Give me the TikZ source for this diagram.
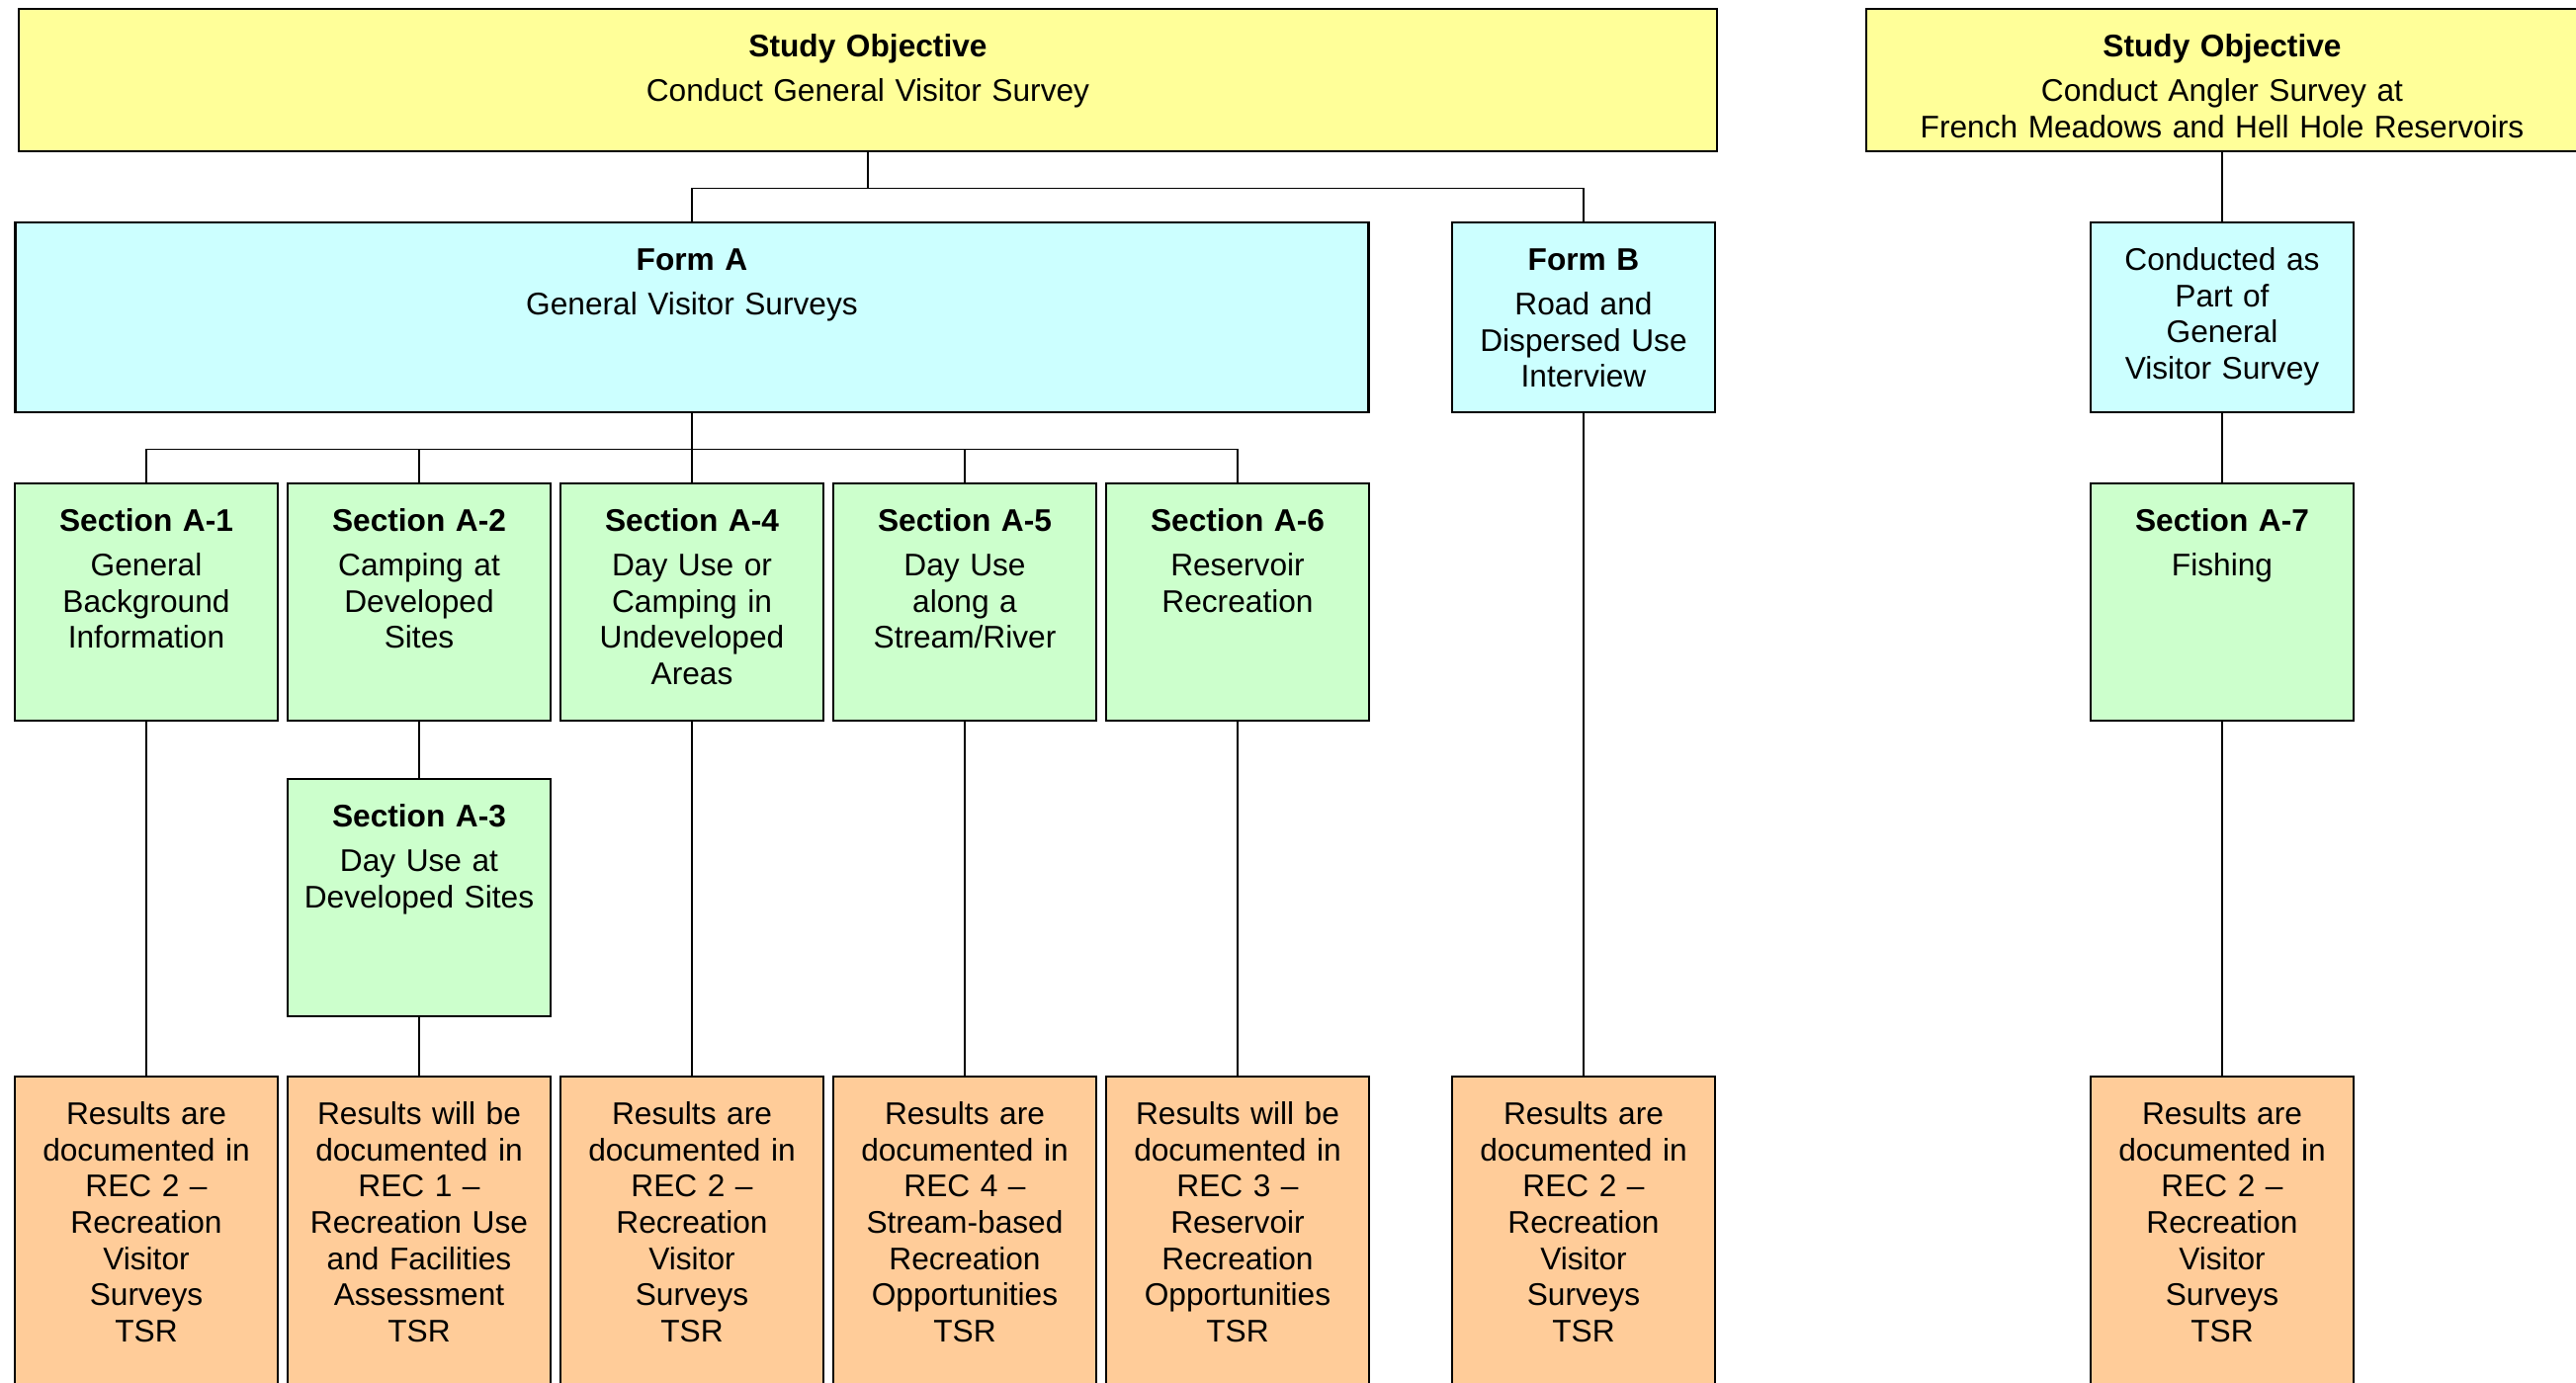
\documentclass[tikz,border=0pt]{standalone}
\usepackage{fontspec}
\setmainfont{Liberation Sans}
\usetikzlibrary{positioning,calc}

\definecolor{objyellow}{RGB}{255,255,153}
\definecolor{formcyan}{RGB}{204,255,255}
\definecolor{secgreen}{RGB}{204,255,204}
\definecolor{respeach}{RGB}{255,204,153}

\begin{document}
\begin{tikzpicture}[x=0.3pt,y=-0.3pt,
    box/.style={draw,line width=0.7pt,anchor=north,inner sep=0pt,align=center,
      text height=14.5pt,font=\fontsize{9.5}{11}\selectfont},
    objbox/.style={box,fill=objyellow,text depth=28.7pt},
    formbox/.style={box,fill=formcyan,text width=79.8pt,text depth=43.1pt},
    secbox/.style={box,fill=secgreen,text width=79.8pt,text depth=57.5pt},
    resbox/.style={box,fill=respeach,text width=79.8pt,text depth=87.5pt},
    link/.style={line width=0.5pt}]
  \path[use as bounding box,clip] (0,0) rectangle (2606,1398);

  % objectives
  \node[objbox,text width=515.25pt] (obj1) at (878,8)
    {\textbf{Study Objective}\\[2.5pt] Conduct General Visitor Survey};
  \node[objbox,text width=216pt] (obj2) at (2248,8)
    {\textbf{Study Objective}\\[2.5pt] Conduct Angler Survey at\\ French Meadows and Hell Hole Reservoirs};

  % forms
  \node[formbox,text width=410.7pt] (formA) at (700,224)
    {\textbf{Form A}\\[2.5pt] General Visitor Surveys};
  \node[formbox] (formB) at (1602,224)
    {\textbf{Form B}\\[2.5pt] Road and\\ Dispersed Use\\ Interview};
  \node[formbox] (part) at (2248,224)
    {Conducted as\\ Part of\\ General\\ Visitor Survey};

  % sections
  \node[secbox] (a1) at (148,488) {\textbf{Section A-1}\\[2.5pt] General\\ Background\\ Information};
  \node[secbox] (a2) at (424,488) {\textbf{Section A-2}\\[2.5pt] Camping at\\ Developed\\ Sites};
  \node[secbox] (a4) at (700,488) {\textbf{Section A-4}\\[2.5pt] Day Use or\\ Camping in\\ Undeveloped\\ Areas};
  \node[secbox] (a5) at (976,488) {\textbf{Section A-5}\\[2.5pt] Day Use\\ along a\\ Stream/River};
  \node[secbox] (a6) at (1252,488) {\textbf{Section A-6}\\[2.5pt] Reservoir\\ Recreation};
  \node[secbox] (a7) at (2248,488) {\textbf{Section A-7}\\[2.5pt] Fishing};
  \node[secbox] (a3) at (424,787) {\textbf{Section A-3}\\[2.5pt] Day Use at\\ Developed Sites};

  % results
  \node[resbox] (r1) at (148,1088) {Results are\\ documented in\\ REC 2 --\\ Recreation\\ Visitor\\ Surveys\\ TSR};
  \node[resbox] (r2) at (424,1088) {Results will be\\ documented in\\ REC 1 --\\ Recreation Use\\ and Facilities\\ Assessment\\ TSR};
  \node[resbox] (r4) at (700,1088) {Results are\\ documented in\\ REC 2 --\\ Recreation\\ Visitor\\ Surveys\\ TSR};
  \node[resbox] (r5) at (976,1088) {Results are\\ documented in\\ REC 4 --\\ Stream-based\\ Recreation\\ Opportunities\\ TSR};
  \node[resbox] (r6) at (1252,1088) {Results will be\\ documented in\\ REC 3 --\\ Reservoir\\ Recreation\\ Opportunities\\ TSR};
  \node[resbox] (rB) at (1602,1088) {Results are\\ documented in\\ REC 2 --\\ Recreation\\ Visitor\\ Surveys\\ TSR};
  \node[resbox] (r7) at (2248,1088) {Results are\\ documented in\\ REC 2 --\\ Recreation\\ Visitor\\ Surveys\\ TSR};

  % connectors
  \draw[link] (obj1.south) -- ++(0,36) coordinate (bus1) -| (formA.north);
  \draw[link] (bus1) -| (formB.north);
  \draw[link] (formA.south) -- ++(0,36) coordinate (bus2);
  \foreach \s in {a1,a2,a4,a5,a6}
    \draw[link] (bus2) -| (\s.north);
  \draw[link] (a2.south) -- (a3.north);
  \draw[link] (a1.south) -- (r1.north);
  \draw[link] (a3.south) -- (r2.north);
  \draw[link] (a4.south) -- (r4.north);
  \draw[link] (a5.south) -- (r5.north);
  \draw[link] (a6.south) -- (r6.north);
  \draw[link] (formB.south) -- (rB.north);
  \draw[link] (obj2.south) -- (part.north);
  \draw[link] (part.south) -- (a7.north);
  \draw[link] (a7.south) -- (r7.north);
\end{tikzpicture}
\end{document}
